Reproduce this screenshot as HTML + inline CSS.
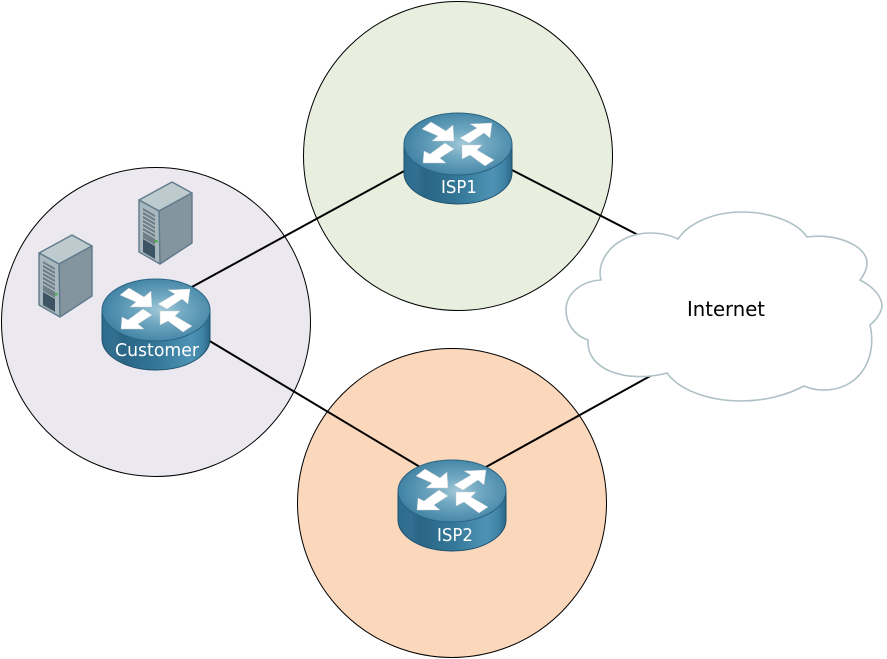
<!DOCTYPE html>
<html>
<head>
<meta charset="utf-8">
<style>
html,body{margin:0;padding:0;background:#fff}
svg{display:block}
text{font-family:"DejaVu Sans","Liberation Sans",sans-serif}
</style>
</head>
<body>
<svg width="887" height="659" viewBox="0 0 887 659" xmlns="http://www.w3.org/2000/svg">
<defs>
<linearGradient id="side" x1="0" x2="1" y1="0" y2="0">
<stop offset="0" stop-color="#2e6c8d"/>
<stop offset=".12" stop-color="#326f90"/>
<stop offset=".2" stop-color="#2a6585"/>
<stop offset=".5" stop-color="#347798"/>
<stop offset=".82" stop-color="#4e93b5"/>
<stop offset=".93" stop-color="#3f83a5"/>
<stop offset="1" stop-color="#2a6686"/>
</linearGradient>
<radialGradient id="top" cx=".55" cy=".5" r=".6">
<stop offset="0" stop-color="#a2cad9"/>
<stop offset=".35" stop-color="#72a9c2"/>
<stop offset=".8" stop-color="#4a8aaa"/>
<stop offset="1" stop-color="#3a7a9b"/>
</radialGradient>
<g id="router">
<path d="M0 31V60C0 77 24 91 54 91S108 77 108 60V31Z" fill="url(#side)" stroke="#1c4f6b" stroke-width="1"/>
<ellipse cx="54" cy="31" rx="54" ry="31" fill="url(#top)" stroke="#2b6484" stroke-width="1"/>
<g fill="#fff" stroke="#c3ced4" stroke-width=".5">
<polygon points="18,16 27,9 42,18 49,12 50,28 28,28 34,23"/>
<polygon points="56,25 73,15 66,11 88,10 86,25 80,20 65,30"/>
<polygon points="41,30 50,36 36,45 42,50 19,50 20,38 26,41"/>
<polygon points="58,32 78,32 73,37 90,47 81,53 66,42 58,46"/>
</g>
</g>
<g id="server">
<polygon points="39,253 72,235 92,246 59,264" fill="#bdcace" stroke="#5f7a8a" stroke-width="1.4" stroke-linejoin="round"/>
<polygon points="59,264 92,246 92,296 60,317" fill="#84959f" stroke="#5f7a8a" stroke-width="1.4" stroke-linejoin="round"/>
<polygon points="39,253 59,264 60,317 39,305" fill="#a9b8be" stroke="#5f7a8a" stroke-width="1.4" stroke-linejoin="round"/>
<polygon points="43,261 55,268 55,298 43,291" fill="#6f7f88"/>
<polygon points="43,292 55,299 55,312 43,305" fill="#3d5464"/>
<path d="M43 264l12 7M43 268l12 7M43 272l12 7M43 276l12 7M43 280l12 7M43 284l12 7" stroke="#b4c0c5" stroke-width="1.3"/>
<rect x="55" y="293" width="2.5" height="2.5" fill="#43b649"/>
</g>
</defs>

<circle cx="458" cy="156" r="154.5" fill="#e9efdf" stroke="#000" stroke-width="1"/>
<circle cx="156" cy="322" r="154.5" fill="#ece8f0" stroke="#000" stroke-width="1"/>
<circle cx="452" cy="503" r="154.5" fill="#fbd7bb" stroke="#000" stroke-width="1"/>

<g stroke="#000" stroke-width="2" fill="none">
<line x1="190" y1="288" x2="406" y2="170"/>
<line x1="208" y1="340" x2="420" y2="467"/>
<line x1="510" y1="169" x2="642" y2="237"/>
<line x1="486" y1="467" x2="652" y2="375"/>
</g>

<path d="M601 280C595 258 618 233 650 233C660 233 670 235 678 239C688 224 712 212 742 212C770 212 797 222 807 237C835 233 867 245 867 263C867 269 864 275 860 280C872 286 882 296 882 306C881 314 876 320 870 325C878 360 858 391 822 390C815 390 809 388 804 386C787 395 765 401 742 401C710 401 680 391 667 373C630 383 586 372 588 340C573 335 566 322 566 310C566 293 582 281 601 280Z" fill="#fff" stroke="#afc1c6" stroke-width="1.6"/>

<use href="#server"/>
<use href="#server" x="100" y="-53"/>

<use href="#router" x="102" y="279"/>
<use href="#router" x="404" y="113"/>
<use href="#router" x="398" y="460"/>

<text x="115" y="356" font-size="18" fill="#fff" textLength="84" lengthAdjust="spacingAndGlyphs">Customer</text>
<text x="441" y="193" font-size="18" fill="#fff" textLength="36" lengthAdjust="spacingAndGlyphs">ISP1</text>
<text x="437" y="541" font-size="18" fill="#fff" textLength="36" lengthAdjust="spacingAndGlyphs">ISP2</text>
<text x="687" y="316" font-size="20.5" fill="#000" textLength="78" lengthAdjust="spacingAndGlyphs">Internet</text>
</svg>
</body>
</html>
